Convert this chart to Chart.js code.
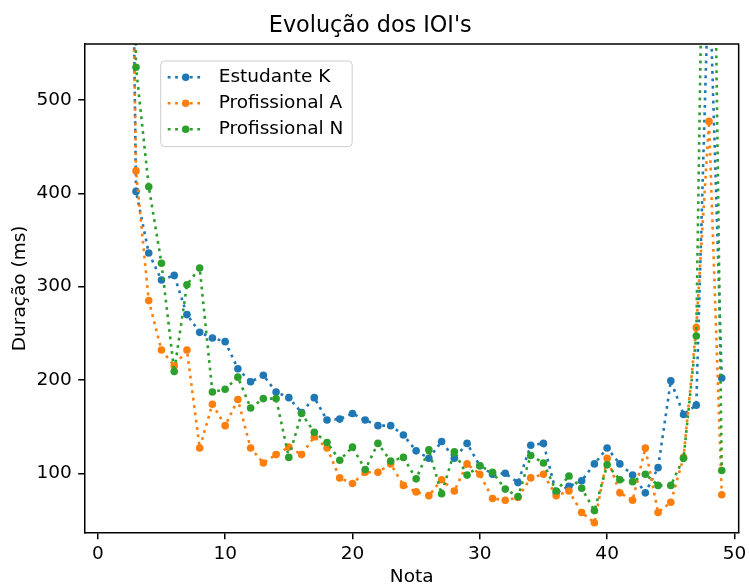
<!DOCTYPE html>
<html>
<head>
<meta charset="utf-8">
<title>Evolução dos IOI's</title>
<script src="https://cdn.jsdelivr.net/npm/chart.js@4.4.1/dist/chart.umd.min.js"></script>
<style>
  html, body { margin: 0; padding: 0; background: #fff; }
  #grafico { display: block; }
</style>
</head>
<body>
<canvas id="grafico" width="750" height="588"></canvas>
<script>
// notas 2..49 (a nota 2 e a 48 ficam fora do eixo y)
const notas = [2, 3, 4, 5, 6, 7, 8, 9, 10, 11, 12, 13, 14, 15, 16, 17, 18, 19, 20, 21, 22, 23, 24, 25,
               26, 27, 28, 29, 30, 31, 32, 33, 34, 35, 36, 37, 38, 39, 40, 41, 42, 43, 44, 45, 46, 47, 48, 49];

const estudanteK = [1500, 402, 336, 307, 312, 270, 251, 245, 241,
                    212, 198, 205, 187, 181, 165, 181, 157, 158, 164,
                    157, 151, 151, 141, 124, 116, 134, 116, 132, 108,
                    99, 100, 90, 130, 132, 79, 86, 92, 110, 127,
                    110, 98, 79, 106, 199, 163, 173, 650, 202];

const profissionalA = [1300, 424, 285, 232, 215, 232, 127, 174, 151,
                       179, 127, 111, 120, 128, 120, 139, 127, 95, 89,
                       101, 101, 110, 87, 80, 76, 93, 81, 110, 99,
                       73, 71, 74, 95, 99, 76, 81, 58, 47, 116,
                       79, 71, 127, 58, 69, 117, 256, 477, 77];

const profissionalN = [1600, 535, 407, 325, 209, 302, 320, 187, 190,
                       203, 170, 180, 180, 117, 164, 144, 133, 114, 128,
                       104, 132, 113, 117, 94, 125, 78, 123, 98, 108,
                       101, 83, 75, 119, 111, 81, 97, 84, 60, 109,
                       93, 91, 99, 87, 87, 116, 247, 1150, 103];

const nomes = ["Estudante K", "Profissional A", "Profissional N"];
const cores = ["#1f77b4", "#ff7f0e", "#2ca02c"];
const ticksX = [0, 10, 20, 30, 40, 50];
const ticksY = [100, 200, 300, 400, 500];

const fonte = "'DejaVu Sans', sans-serif";
const pontilhado = [2.8, 4.6];

Chart.defaults.color = "#000";
Chart.defaults.font.family = fonte;

function serie(valores, i) {
    return {
        label: nomes[i],
        data: notas.map((n, k) => ({ x: n, y: valores[k] })),
        borderColor: cores[i],
        backgroundColor: cores[i],
        borderWidth: 2.6,
        borderDash: pontilhado,
        borderCapStyle: "butt",
        pointRadius: 3.8,
        pointBorderWidth: 0,
        pointHoverRadius: 3.8,
        tension: 0,
        fill: false,
        order: 2 - i
    };
}

// bordas de cima e da direita + legenda dentro do gráfico
const molduraELegenda = {
    id: "molduraELegenda",
    afterDraw(chart) {
        const { ctx, chartArea: a } = chart;
        ctx.save();
        ctx.strokeStyle = "#000";
        ctx.lineWidth = 1.5;
        ctx.beginPath();
        ctx.moveTo(a.left, a.top);
        ctx.lineTo(a.right, a.top);
        ctx.lineTo(a.right, a.bottom);
        ctx.stroke();

        const bx = a.left + 76, by = a.top + 17, bw = 191.5, bh = 85.7;
        ctx.beginPath();
        ctx.roundRect(bx, by, bw, bh, 4);
        ctx.fillStyle = "rgba(255,255,255,0.8)";
        ctx.fill();
        ctx.strokeStyle = "#cccccc";
        ctx.lineWidth = 1;
        ctx.stroke();

        ctx.font = "18.5px " + fonte;
        ctx.textBaseline = "middle";
        ctx.textAlign = "left";
        chart.data.datasets.forEach((ds, i) => {
            const y = by + 16.3 + i * 26;
            ctx.strokeStyle = ds.borderColor;
            ctx.lineWidth = 2.6;
            ctx.setLineDash(pontilhado);
            ctx.beginPath();
            ctx.moveTo(bx + 7, y);
            ctx.lineTo(bx + 43, y);
            ctx.stroke();
            ctx.setLineDash([]);
            ctx.fillStyle = ds.backgroundColor;
            ctx.beginPath();
            ctx.arc(bx + 25, y, 3.8, 0, Math.PI * 2);
            ctx.fill();
            ctx.fillStyle = "#000";
            ctx.fillText(ds.label, bx + 58, y);
        });
        ctx.restore();
    }
};

const eixo = {
    grid: { drawOnChartArea: false, drawTicks: true, tickLength: 6.5, color: "#000", lineWidth: 1.5 },
    border: { display: true, color: "#000", width: 1.5 }
};

new Chart(document.getElementById("grafico").getContext("2d"), {
    type: "line",
    data: {
        datasets: [serie(estudanteK, 0), serie(profissionalA, 1), serie(profissionalN, 2)]
    },
    options: {
        responsive: false,
        animation: false,
        devicePixelRatio: 1,
        layout: { padding: { left: 0, right: 9.5, top: 0, bottom: 0 } },
        plugins: {
            legend: { display: false },
            tooltip: { enabled: false },
            title: {
                display: true,
                text: "Evolução dos IOI's",
                color: "#000",
                font: { size: 22.3, weight: "normal", family: fonte },
                padding: { top: 12.5, bottom: 4.7 }
            }
        },
        scales: {
            x: {
                type: "linear",
                min: -1.03,
                max: 50.33,
                ...eixo,
                afterBuildTicks: s => { s.ticks = ticksX.map(v => ({ value: v })); },
                afterFit: s => { s.height = 55.3; },
                ticks: { font: { size: 18.5 }, padding: 3.7, maxRotation: 0, autoSkip: false },
                title: { display: true, text: "Nota", font: { size: 18.5 }, padding: { top: 0, bottom: 0 } }
            },
            y: {
                type: "linear",
                min: 36.3,
                max: 560,
                ...eixo,
                afterBuildTicks: s => { s.ticks = ticksY.map(v => ({ value: v })); },
                afterFit: s => { s.width = 84.7; },
                ticks: { font: { size: 18.5 }, padding: 6.5 },
                title: { display: true, text: "Duração (ms)", font: { size: 18.5 }, padding: { top: 9, bottom: 0 } }
            }
        }
    },
    plugins: [molduraELegenda]
});
</script>
</body>
</html>
